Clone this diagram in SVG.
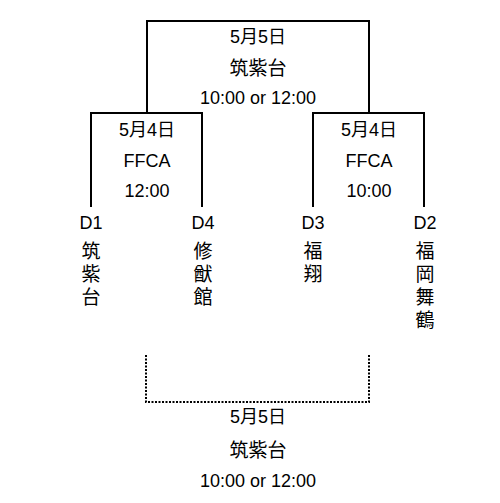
<svg xmlns="http://www.w3.org/2000/svg" width="500" height="503" viewBox="0 0 500 503">
<style>
text{font-family:"Liberation Sans","Noto Sans CJK JP",sans-serif;font-size:18px;fill:#000;text-anchor:middle}
.cj{font-size:19px}
.ln{fill:none;stroke:#000;stroke-width:2}
.dot{fill:none;stroke:#000;stroke-width:2;stroke-dasharray:2 1.5}
</style>
<rect width="500" height="503" fill="#fff"/>
<g id="connectors">
<path class="ln" d="M147,113 V21 H369 V113"/>
<path class="ln" d="M91,207 V113 H202 V207"/>
<path class="ln" d="M313,207 V113 H424 V207"/>
<path class="dot" d="M146,355 V402 H369 V355"/>
</g>
<g id="final">
<text x="258" y="43">5月5日</text>
<text class="cj" x="258" y="75">筑紫台</text>
<text x="258" y="104">10:00 or 12:00</text>
</g>
<g id="semi1">
<text x="147" y="136">5月4日</text>
<text x="147" y="167">FFCA</text>
<text x="147" y="197">12:00</text>
</g>
<g id="semi2">
<text x="369" y="136">5月4日</text>
<text x="369" y="167">FFCA</text>
<text x="369" y="197">10:00</text>
</g>
<g id="d1">
<text x="91" y="229">D1</text>
<text class="cj" x="91" y="258">筑</text>
<text class="cj" x="91" y="281">紫</text>
<text class="cj" x="91" y="304">台</text>
</g>
<g id="d4">
<text x="203" y="229">D4</text>
<text class="cj" x="203" y="258">修</text>
<text class="cj" x="203" y="281">猷</text>
<text class="cj" x="203" y="304">館</text>
</g>
<g id="d3">
<text x="313" y="229">D3</text>
<text class="cj" x="313" y="258">福</text>
<text class="cj" x="313" y="281">翔</text>
</g>
<g id="d2">
<text x="425" y="229">D2</text>
<text class="cj" x="425" y="258">福</text>
<text class="cj" x="425" y="281">岡</text>
<text class="cj" x="425" y="304">舞</text>
<text class="cj" x="425" y="327">鶴</text>
</g>
<g id="third">
<text x="258" y="423">5月5日</text>
<text class="cj" x="258" y="457">筑紫台</text>
<text x="258" y="487">10:00 or 12:00</text>
</g>
</svg>
